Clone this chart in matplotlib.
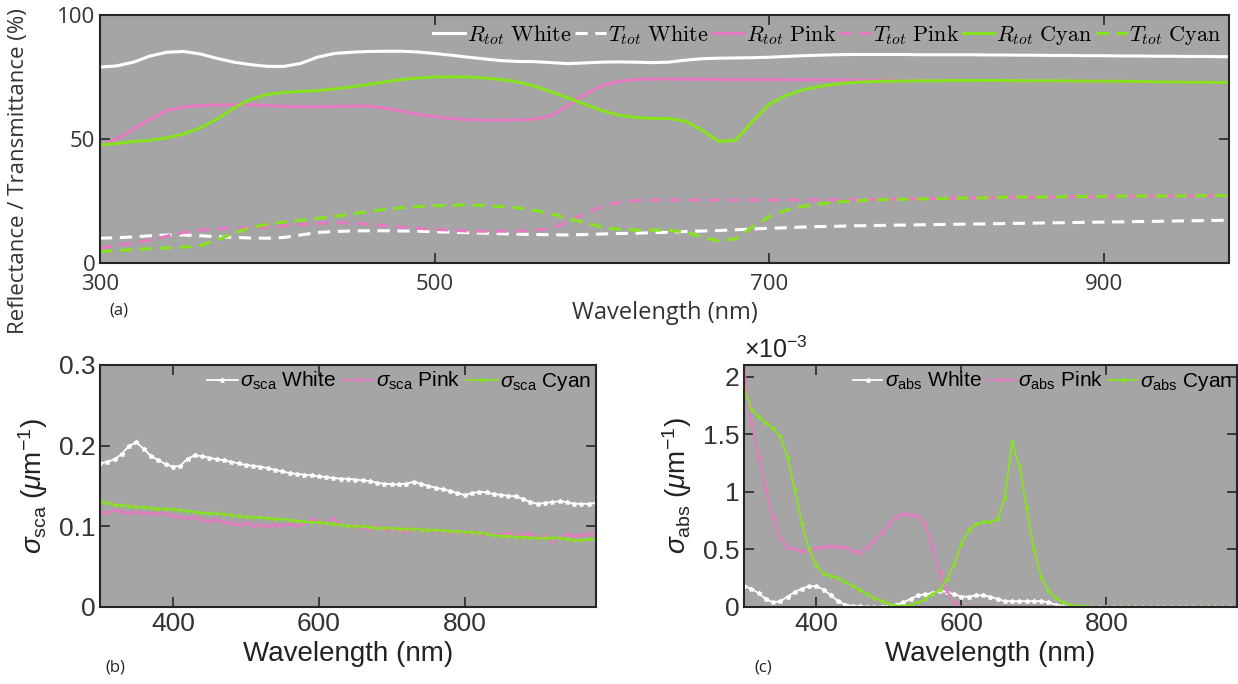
import numpy as np
import matplotlib as mpl
mpl.use('Agg')
import matplotlib.pyplot as plt
from matplotlib.font_manager import FontProperties
from matplotlib.ticker import FormatStrFormatter

# wavelength grid (nm), shared by all panels
wl = np.arange(300, 981, 10)

# (a) total reflectance / transmittance (%)
R_white = [79, 79.5, 81, 83.5, 85, 85.3, 84.3, 82.5, 81, 80, 79.3, 79.3, 80.5, 83, 84.5, 85, 85.3, 85.4, 85.4, 85.1,
           84.5, 83.8, 83, 82.3, 81.6, 81.3, 81.2, 80.8, 80.4, 80.7, 81, 81.1, 81, 80.8, 81, 81.8, 82.4, 82.6, 82.7, 82.8,
           83, 83.3, 83.6, 83.8, 84, 84.1, 84.1, 84.1, 84.1, 84, 84, 84, 84, 83.9, 83.9, 83.8, 83.8, 83.7, 83.7, 83.6,
           83.6, 83.5, 83.5, 83.4, 83.4, 83.3, 83.3, 83.2, 83.2]
R_pink = [47, 50, 54, 58, 61.5, 63, 63.5, 63.7, 63.8, 63.8, 63.5, 63.2, 63, 63, 63.1, 63.3, 63.3, 62.5, 61.3, 60,
          59, 58.3, 57.8, 57.6, 57.6, 57.7, 58, 59.5, 63.5, 68, 71.5, 73.3, 74, 74.2, 74.2, 74.1, 74.1, 74, 74, 74,
          74, 73.9, 73.9, 73.9, 73.8, 73.8, 73.6, 73.6, 73.6, 73.6, 73.6, 73.6, 73.6, 73.5, 73.5, 73.5, 73.4, 73.4, 73.3, 73.3,
          73.2, 73.2, 73.1, 73.1, 73, 72.9, 72.9, 72.8, 72.8]
R_cyan = [47.6, 48.2, 49, 49.5, 50.5, 52, 54.5, 58, 62.5, 66, 68, 68.8, 69.2, 69.5, 70.2, 71, 72, 73, 74, 74.6,
          75, 75.1, 75, 74.6, 74, 73, 71.3, 69, 66.5, 64, 61.5, 59.7, 58.7, 58.3, 58.3, 57.2, 53.5, 49, 49.5, 57,
          64, 67.5, 69.8, 71.2, 72.2, 72.8, 73.1, 73.3, 73.4, 73.5, 73.5, 73.6, 73.6, 73.6, 73.6, 73.5, 73.5, 73.5, 73.4, 73.4,
          73.3, 73.3, 73.2, 73.1, 73, 72.9, 72.9, 72.8, 72.7]
T_white = [10, 10.2, 10.5, 11, 11.3, 11.3, 11, 10.6, 10.3, 10.1, 10, 10.3, 11.3, 12.3, 12.7, 12.9, 13, 13, 12.9, 12.8,
           12.6, 12.4, 12.2, 12, 11.8, 11.6, 11.5, 11.4, 11.3, 11.5, 11.7, 11.9, 12, 12.2, 12.4, 12.7, 12.9, 13.1, 13.4, 13.7,
           14, 14.2, 14.5, 14.7, 14.8, 15, 15.1, 15.2, 15.3, 15.4, 15.5, 15.6, 15.7, 15.8, 15.9, 16, 16.1, 16.2, 16.3, 16.4,
           16.5, 16.6, 16.7, 16.8, 16.9, 17, 17.1, 17.2, 17.3]
T_pink = [6, 7, 8.2, 9.3, 10.8, 12.3, 13.3, 13.8, 14, 14.2, 14.5, 15, 15.5, 16, 16.2, 16.1, 15.7, 15.1, 14.5, 14,
          13.6, 13.2, 12.9, 12.8, 12.8, 12.9, 13.2, 14, 16.5, 20, 22.8, 24.5, 25.2, 25.4, 25.4, 25.4, 25.4, 25.4, 25.4, 25.4,
          25.4, 25.4, 25.5, 25.5, 25.5, 25.5, 25.6, 25.7, 25.8, 25.9, 26, 26.1, 26.2, 26.3, 26.4, 26.5, 26.6, 26.6, 26.7, 26.7,
          26.8, 26.8, 26.9, 27, 27, 27.1, 27.2, 27.2, 27.3]
T_cyan = [4.6, 5, 5.4, 5.8, 6.1, 6.4, 7, 9.3, 12, 14.3, 15.6, 16.5, 17.3, 18, 18.8, 19.7, 20.7, 21.6, 22.3, 22.8,
          23.1, 23.3, 23.3, 23.2, 22.8, 22.2, 21.2, 19.8, 18, 16.2, 14.5, 13.6, 13.3, 13.3, 13.2, 12.5, 10.5, 8.8, 9.8, 14.5,
          18.7, 21.3, 22.8, 23.8, 24.5, 25, 25.4, 25.6, 25.7, 25.8, 26, 26.1, 26.2, 26.3, 26.5, 26.6, 26.6, 26.7, 26.8, 26.8,
          26.9, 26.9, 27, 27, 27.1, 27.1, 27.2, 27.2, 27.3]

# (b) scattering coefficient (1/um)
sca_white = [.178, .180, .183, .190, .200, .204, .196, .187, .182, .177, .174, .175, .184, .188, .187, .185, .183, .182, .180, .178,
             .176, .175, .174, .172, .170, .168, .166, .165, .164, .163, .162, .161, .160, .159, .159, .158, .157, .156, .154, .153,
             .152, .152, .153, .155, .153, .150, .148, .146, .144, .141, .139, .141, .143, .142, .140, .139, .138, .137, .134, .130,
             .128, .129, .130, .131, .130, .128, .128, .128, .129]
sca_pink = [.118, .117, .120, .118, .116, .118, .116, .117, .115, .116, .113, .112, .110, .111, .108, .107, .108, .105, .104, .102,
            .104, .101, .102, .100, .102, .101, .103, .101, .104, .109, .106, .104, .110, .103, .100, .101, .098, .097, .100, .096,
            .097, .095, .094, .097, .095, .097, .094, .095, .093, .094, .092, .093, .091, .090, .091, .089, .092, .088, .090, .091,
            .086, .088, .082, .086, .090, .088, .089, .091, .091]
sca_cyan = [.132, .129, .127, .126, .125, .124, .124, .123, .122, .122, .121, .120, .119, .118, .117, .116, .116, .115, .114, .113,
            .112, .111, .111, .110, .109, .109, .108, .107, .106, .105, .105, .104, .103, .102, .101, .100, .100, .099, .098, .098,
            .098, .097, .097, .097, .096, .096, .095, .095, .094, .094, .093, .093, .092, .091, .089, .088, .088, .087, .087, .086,
            .086, .085, .086, .086, .084, .083, .083, .084, .084]

# (c) absorption coefficient (x1e-3 1/um)
abs_white = [0.18, 0.16, 0.12, 0.07, 0.04, 0.05, 0.09, 0.13, 0.16, 0.18, 0.18, 0.15, 0.10, 0.05, 0.02, 0.01, 0.005, 0.003, 0.002, 0.003,
             0.008, 0.02, 0.04, 0.07, 0.10, 0.11, 0.12, 0.14, 0.13, 0.11, 0.09, 0.09, 0.10, 0.10, 0.09, 0.07, 0.05, 0.05, 0.05, 0.05,
             0.05, 0.05, 0.04, 0.02, 0.01, 0, 0, 0, 0, 0, 0, 0, 0, 0, 0, 0, 0, 0, 0, 0,
             0, 0, 0, 0, 0, 0, 0, 0, 0]
abs_pink = [2.08, 1.60, 1.30, 1.02, 0.78, 0.60, 0.52, 0.50, 0.49, 0.49, 0.51, 0.52, 0.53, 0.52, 0.52, 0.49, 0.47, 0.52, 0.58, 0.64,
            0.72, 0.78, 0.81, 0.80, 0.79, 0.72, 0.52, 0.30, 0.14, 0.04, 0, 0, 0, 0, 0, 0, 0, 0, 0, 0,
            0, 0, 0, 0, 0, 0, 0, 0, 0, 0, 0, 0, 0, 0, 0, 0, 0, 0, 0, 0,
            0, 0, 0, 0, 0, 0, 0, 0, 0]
abs_cyan = [1.90, 1.72, 1.65, 1.60, 1.55, 1.48, 1.30, 1.02, 0.72, 0.50, 0.36, 0.29, 0.27, 0.25, 0.22, 0.18, 0.15, 0.11, 0.08, 0.05,
            0.03, 0.01, 0.01, 0.02, 0.04, 0.07, 0.11, 0.15, 0.24, 0.37, 0.55, 0.67, 0.72, 0.74, 0.74, 0.76, 0.95, 1.43, 1.22, 0.86,
            0.50, 0.26, 0.14, 0.08, 0.04, 0.02, 0.01, 0.005, 0.002, 0, 0, 0, 0, 0, 0, 0, 0, 0, 0, 0,
            0, 0, 0, 0, 0, 0, 0, 0, 0]

WHITE = '#ffffff'
PINK = '#e67ac0'
GREEN = '#86e31e'
BG = '#a5a5a5'

plt.rcParams['mathtext.fontset'] = 'custom'
plt.rcParams['mathtext.rm'] = 'Liberation Sans'
plt.rcParams['mathtext.it'] = 'Liberation Sans:italic'
plt.rcParams['mathtext.fallback'] = 'cm'


def style_axes(ax, fam, size):
	ax.set_facecolor(BG)
	for s in ax.spines.values():
		s.set_linewidth(1.5)
		s.set_color('#262626')
	ax.tick_params(direction='in', top=True, right=True, length=7, width=1.2, colors='#262626', labelsize=size)
	for lab in ax.get_xticklabels() + ax.get_yticklabels():
		lab.set_family(fam)
		lab.set_color('#333333')


def main():
	fig = plt.figure(figsize=(12.38, 6.84), dpi=100)

	# ---- (a) ----
	ax = fig.add_axes([0.0808, 0.6155, 0.912, 0.3625])
	ax.plot(wl, R_white, color=WHITE, lw=2.2, label=r'$R_{tot}\ \mathrm{White}$')
	ax.plot(wl, T_white, color=WHITE, lw=2.2, ls=(0, (4, 2.5)), label=r'$T_{tot}\ \mathrm{White}$')
	ax.plot(wl, R_pink, color=PINK, lw=2.2, label=r'$R_{tot}\ \mathrm{Pink}$')
	ax.plot(wl, T_pink, color=PINK, lw=2.2, ls=(0, (4, 2.5)), label=r'$T_{tot}\ \mathrm{Pink}$')
	ax.plot(wl, R_cyan, color=GREEN, lw=2.2, label=r'$R_{tot}\ \mathrm{Cyan}$')
	ax.plot(wl, T_cyan, color=GREEN, lw=2.2, ls=(0, (4, 2.5)), label=r'$T_{tot}\ \mathrm{Cyan}$')
	ax.set_xlim(300, 975)
	ax.set_ylim(0, 100)
	ax.set_xticks([300, 500, 700, 900])
	ax.set_yticks([0, 50, 100])
	style_axes(ax, 'Open Sans', 16)
	ax.tick_params(axis='x', pad=8)
	ax.set_xlabel('Wavelength (nm)', fontsize=17, family='Open Sans', color='#333333', labelpad=4)
	ax.set_ylabel('Reflectance / Transmittance (%)', fontsize=16, family='Open Sans', color='#333333')
	ax.yaxis.set_label_coords(-0.063, 0.37)
	ax.text(0.008, -0.19, '(a)', transform=ax.transAxes, fontsize=12, family='Open Sans', color='#222222', va='center')
	ax.legend(loc='upper right', ncol=6, frameon=False, prop=FontProperties(size=16, math_fontfamily='cm'),
	          handlelength=1.4, handletextpad=0.1, columnspacing=0.15, borderpad=0.25, borderaxespad=0.1)

	# ---- (b) ----
	bx = fig.add_axes([0.0808, 0.1126, 0.4006, 0.3538])
	bx.plot(wl, sca_white, color=WHITE, lw=1.3, marker='*', ms=3.5, label=r'$\sigma_{\rm sca}$ White')
	bx.plot(wl, sca_pink, color=PINK, lw=1.3, marker='x', ms=3.5, label=r'$\sigma_{\rm sca}$ Pink')
	bx.plot(wl, sca_cyan, color=GREEN, lw=1.3, marker='.', ms=4, label=r'$\sigma_{\rm sca}$ Cyan')
	bx.set_xlim(300, 980)
	bx.set_ylim(0, 0.3)
	bx.set_xticks([400, 600, 800])
	bx.set_yticks([0, 0.1, 0.2, 0.3])
	bx.yaxis.set_major_formatter(FormatStrFormatter('%g'))
	style_axes(bx, 'Liberation Sans', 19)
	bx.set_xlabel('Wavelength (nm)', fontsize=20, family='Liberation Sans', color='#222222', labelpad=4)
	bx.set_ylabel(r'$\sigma_{\rm sca}$ ($\mu$m$^{-1}$)', fontsize=20, family='Liberation Sans', color='#222222', labelpad=6)
	bx.text(0.01, -0.25, '(b)', transform=bx.transAxes, fontsize=12, family='Open Sans', color='#222222', va='center')
	bx.legend(loc='upper right', ncol=3, frameon=False, prop=FontProperties(family='Liberation Sans', size=15),
	          handlelength=1.5, handletextpad=0.1, columnspacing=0.3, borderpad=0.1, borderaxespad=0.15)

	# ---- (c) ----
	cx = fig.add_axes([0.601, 0.1126, 0.398, 0.3538])
	cx.plot(wl, abs_white, color=WHITE, lw=1.3, marker='*', ms=3.5, label=r'$\sigma_{\rm abs}$ White')
	cx.plot(wl, abs_pink, color=PINK, lw=1.3, marker='x', ms=3.5, label=r'$\sigma_{\rm abs}$ Pink')
	cx.plot(wl, abs_cyan, color=GREEN, lw=1.3, marker='.', ms=4, label=r'$\sigma_{\rm abs}$ Cyan')
	cx.set_xlim(300, 980)
	cx.set_ylim(0, 2.1)
	cx.set_xticks([400, 600, 800])
	cx.set_yticks([0, 0.5, 1, 1.5, 2])
	cx.yaxis.set_major_formatter(FormatStrFormatter('%g'))
	style_axes(cx, 'Liberation Sans', 19)
	cx.set_xlabel('Wavelength (nm)', fontsize=20, family='Liberation Sans', color='#222222', labelpad=4)
	cx.set_ylabel(r'$\sigma_{\rm abs}$ ($\mu$m$^{-1}$)', fontsize=20, family='Liberation Sans', color='#222222', labelpad=6)
	cx.text(0.0, 1.01, r'$\times$10$^{-3}$', transform=cx.transAxes, fontsize=18, family='Liberation Sans',
	        color='#222222', va='bottom')
	cx.text(0.02, -0.25, '(c)', transform=cx.transAxes, fontsize=12, family='Open Sans', color='#222222', va='center')
	cx.legend(loc='upper right', ncol=3, frameon=False, prop=FontProperties(family='Liberation Sans', size=15),
	          handlelength=1.4, handletextpad=0.1, columnspacing=0.25, borderpad=0.1, borderaxespad=0.15)

	fig.savefig('out.png', dpi=100)


if __name__ == '__main__':
	main()
